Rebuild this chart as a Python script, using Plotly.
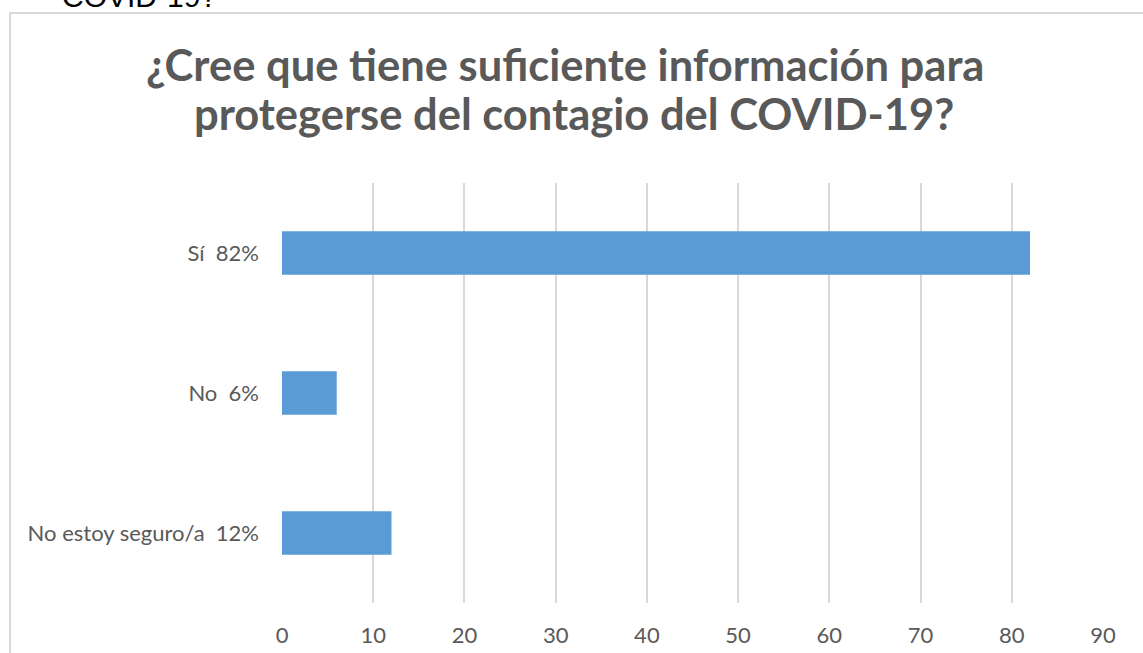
import plotly.graph_objects as go

categories = ["Sí  82%", "No  6%", "No estoy seguro/a  12%"]
values = [82, 6, 12]
x_ticks = [0, 10, 20, 30, 40, 50, 60, 70, 80, 90]
title_line1 = "¿Cree que tiene suficiente información para"
title_line2 = "protegerse del contagio del COVID-19?"
cut_text = "COVID-19?"

W, H = 1143, 653
L, R, T, B = 282, 40, 183, 50
pw, ph = W - L - R, H - T - B

def px(xp):
    return (xp - L) / pw

def py(yp):
    return (H - B - yp) / ph

fig = go.Figure()
fig.add_trace(go.Bar(
    y=categories, x=values, orientation="h",
    marker=dict(color="#5b9bd5", line=dict(width=0)),
    width=0.31,
))

title_font = dict(family="Lato, Noto Sans, sans-serif", size=43.5, color="#595959", weight="bold")

fig.update_layout(
    width=W, height=H,
    margin=dict(l=L, r=R, t=T, b=B),
    paper_bgcolor="white", plot_bgcolor="white",
    showlegend=False,
    font=dict(family="Lato, Noto Sans, sans-serif", color="#595959", size=22),
    xaxis=dict(range=[0, 90], tickvals=x_ticks, showgrid=True, gridcolor="#d9d9d9",
               gridwidth=2, zeroline=False, showline=False, ticks="",
               ticklabelstandoff=17, tickfont=dict(size=22, color="#595959"),
               automargin=False, fixedrange=True),
    yaxis=dict(categoryorder="array", categoryarray=categories, autorange="reversed",
               showgrid=False, zeroline=False, showline=False, ticks="",
               ticklabelstandoff=22, tickfont=dict(size=22, color="#595959"),
               automargin=False, fixedrange=True),
    annotations=[
        dict(text=title_line1, xref="paper", yref="paper", x=px(565), y=py(64),
             xanchor="center", yanchor="middle", showarrow=False, font=title_font),
        dict(text=title_line2, xref="paper", yref="paper", x=px(574), y=py(113),
             xanchor="center", yanchor="middle", showarrow=False, font=title_font),
        dict(text=cut_text, xref="paper", yref="paper", x=px(60), y=py(15),
             xanchor="left", yanchor="bottom", showarrow=False,
             font=dict(family="Liberation Sans, Arial", size=30, color="#000000")),
    ],
    shapes=[
        dict(type="line", xref="paper", yref="paper", x0=px(10), x1=px(10),
             y0=py(13), y1=py(660), line=dict(color="#d9d9d9", width=2)),
        dict(type="line", xref="paper", yref="paper", x0=px(9), x1=px(1150),
             y0=py(13), y1=py(13), line=dict(color="#d9d9d9", width=2)),
    ],
)

fig.write_html("out.html", config={"displayModeBar": False},
               post_script="document.body.style.margin='0';document.body.style.padding='0';")
